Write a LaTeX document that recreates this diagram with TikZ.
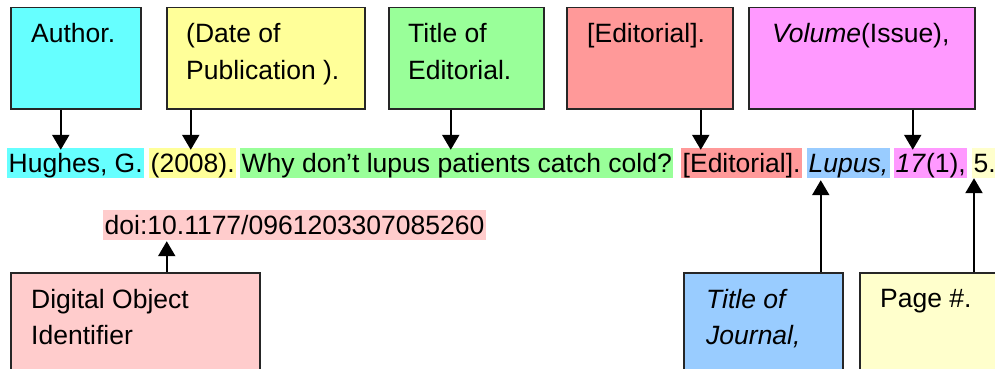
\documentclass[tikz,border=0pt]{standalone}
\usepackage{fontspec}
\setmainfont{Liberation Sans}
\usetikzlibrary{arrows.meta}
\definecolor{ccyan}{HTML}{66FFFF}
\definecolor{cyel}{HTML}{FFFF99}
\definecolor{cgreen}{HTML}{99FF99}
\definecolor{csalmon}{HTML}{FF9999}
\definecolor{cmag}{HTML}{FF99FF}
\definecolor{cblue}{HTML}{99CCFF}
\definecolor{clyel}{HTML}{FFFFCC}
\definecolor{cpink}{HTML}{FFCCCC}
\begin{document}
\begin{tikzpicture}[x=1pt,y=-1pt,
  font=\fontsize{26.5}{36}\selectfont,
  cbox/.style={draw=black!85,line width=1.5pt,anchor=north west,inner sep=0pt},
  lbl/.style={anchor=base west,inner sep=0pt},
  hl/.style={anchor=base west,inner xsep=1.5pt,inner ysep=0pt,text height=24pt,text depth=6pt},
  arr/.style={line width=2.2pt,-{Triangle[width=17pt,length=15pt]}}]
\useasboundingbox (0,0) rectangle (995,369);
\clip (0,0) rectangle (995,369);
\fill[white] (0,0) rectangle (995,369);
% top boxes
\node[cbox,fill=ccyan,minimum width=130pt,minimum height=101pt] (authorbox) at (10,7) {};
\node[cbox,fill=cyel,minimum width=198pt,minimum height=101pt] (datebox) at (166,7) {};
\node[cbox,fill=cgreen,minimum width=155pt,minimum height=101pt] (titlebox) at (388,7) {};
\node[cbox,fill=csalmon,minimum width=166pt,minimum height=101pt] (editbox) at (566,7) {};
\node[cbox,fill=cmag,minimum width=226pt,minimum height=101pt] (volbox) at (748,7) {};
\node[lbl] (authortxt) at (31,43) {Author.};
\node[lbl] (datetxt) at (186,43) {\begin{tabular}[t]{@{}l@{}}(Date of\\Publication ).\end{tabular}};
\node[lbl] (titletxt) at (408,43) {\begin{tabular}[t]{@{}l@{}}Title of\\Editorial.\end{tabular}};
\node[lbl] (edittxt) at (587,43) {[Editorial].};
\node[lbl] (voltxt) at (772,43) {\textit{Volume}(Issue),};
% reference line
\node[hl,fill=ccyan] (hughes) at (7,172) {Hughes, G.};
\node[hl,fill=cyel] (year) at (149,172) {(2008).};
\node[hl,fill=cgreen] (why) at (240,172) {Why don’t lupus patients catch cold?};
\node[hl,fill=csalmon] (edit) at (681,172) {[Editorial].};
\node[hl,fill=cblue] (lupus) at (807,172) {\textit{Lupus,}};
\node[hl,fill=cmag] (vol) at (894,172) {\textit{17}(1),};
\node[hl,fill=clyel] (five) at (972,172) {5.};
\node[hl,fill=cpink] (doi) at (103,234) {doi:10.1177/0961203307085260};
% bottom boxes
\node[cbox,fill=cpink,minimum width=249pt,minimum height=110pt] (doibox) at (10,272) {};
\node[cbox,fill=cblue,minimum width=159pt,minimum height=110pt] (jourbox) at (683,272) {};
\node[cbox,fill=clyel,minimum width=145pt,minimum height=110pt] (pagebox) at (859,272) {};
\node[lbl] (doitxt) at (31,308) {\begin{tabular}[t]{@{}l@{}}Digital Object\\Identifier\end{tabular}};
\node[lbl] (jourtxt) at (706,308) {\begin{tabular}[t]{@{}l@{}}\textit{Title of}\\\textit{Journal,}\end{tabular}};
\node[lbl] (pagetxt) at (880,307) {Page \#.};
% arrows down
\coordinate (a1) at ([xshift=-15pt]authorbox.south);
\coordinate (a2) at ([xshift=-75pt]datebox.south);
\coordinate (a3) at ([xshift=-15.5pt]titlebox.south);
\coordinate (a4) at ([xshift=51pt]editbox.south);
\coordinate (a5) at ([xshift=51pt]volbox.south);
\draw[arr] (a1) -- ([yshift=-2pt]a1 |- hughes.north);
\draw[arr] (a2) -- ([yshift=-2pt]a2 |- year.north);
\draw[arr] (a3) -- ([yshift=-2pt]a3 |- why.north);
\draw[arr] (a4) -- ([yshift=-2pt]a4 |- edit.north);
\draw[arr] (a5) -- ([yshift=-2pt]a5 |- vol.north);
% arrows up
\coordinate (b1) at ([xshift=31.5pt]doibox.north);
\coordinate (b2) at ([xshift=57.5pt]jourbox.north);
\coordinate (b3) at ([xshift=115pt]pagebox.north west);
\draw[arr] (b1) -- ([yshift=-1pt]b1 |- doi.south);
\draw[arr] (b2) -- ([yshift=-2pt]b2 |- lupus.south);
\draw[arr] (b3) -- (b3 |- five.south);
\end{tikzpicture}
\end{document}
